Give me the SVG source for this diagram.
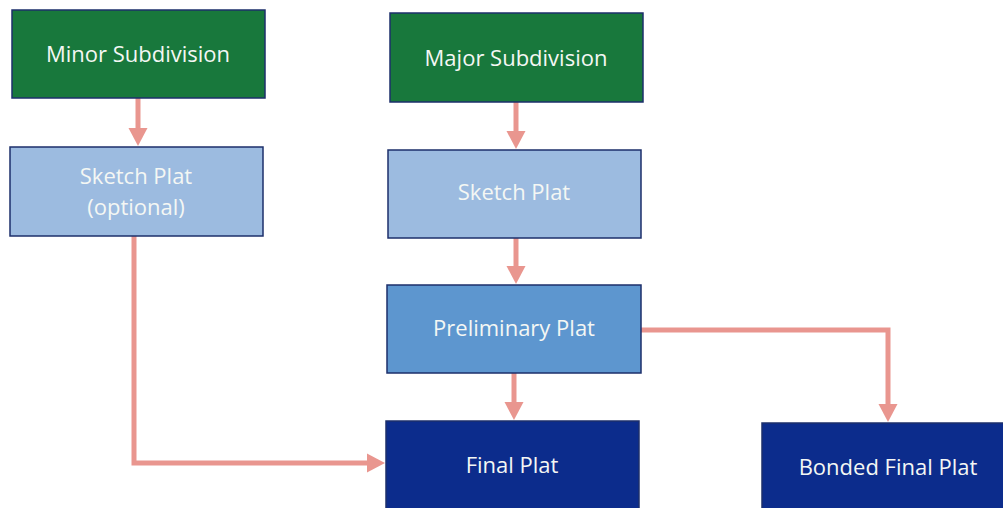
<svg xmlns="http://www.w3.org/2000/svg" width="1003" height="508" viewBox="0 0 1003 508">
<style>
.box{stroke:#1d2f6b;stroke-width:1.5}
.green{fill:#18783c}
.light{fill:#9cbbe0}
.mid{fill:#5d96cf}
.dark{fill:#0c2c8c}
.t{font-family:"Open Sans","Liberation Sans",sans-serif;font-size:22px;fill:#f4f7f4;text-anchor:middle}
.c{fill:none;stroke:#e9968f;stroke-width:5}
</style>
<defs>
<marker id="ah" markerWidth="4" markerHeight="4" refX="0.4" refY="2" orient="auto" markerUnits="strokeWidth" viewBox="0 0 4 4">
<polygon points="0,0.1 3.6,2 0,3.9" fill="#e9968f"/>
</marker>
</defs>
<rect width="1003" height="508" fill="#ffffff"/>
<g id="connectors">
<path class="c" d="M138,98 V130" marker-end="url(#ah)"/>
<path class="c" d="M516,102 V133" marker-end="url(#ah)"/>
<path class="c" d="M516,238 V268" marker-end="url(#ah)"/>
<path class="c" d="M514,373 V404" marker-end="url(#ah)"/>
<path class="c" d="M641,330 H888 V406" marker-end="url(#ah)"/>
<path class="c" d="M134,236 V463 H369" marker-end="url(#ah)"/>
</g>
<g id="minor">
<rect class="box green" x="12" y="10" width="253" height="88"/>
<text class="t" x="138" y="62">Minor Subdivision</text>
</g>
<g id="sketch-optional">
<rect class="box light" x="10" y="147" width="253" height="89"/>
<text class="t" x="136" y="184">Sketch Plat</text>
<text class="t" x="136" y="215">(optional)</text>
</g>
<g id="major">
<rect class="box green" x="390" y="13" width="253" height="89"/>
<text class="t" x="516" y="66">Major Subdivision</text>
</g>
<g id="sketch">
<rect class="box light" x="388" y="150" width="253" height="88"/>
<text class="t" x="514" y="200">Sketch Plat</text>
</g>
<g id="preliminary">
<rect class="box mid" x="387" y="285" width="254" height="88"/>
<text class="t" x="514" y="336">Preliminary Plat</text>
</g>
<g id="final">
<rect class="box dark" x="386" y="421" width="253" height="92"/>
<text class="t" x="512" y="473">Final Plat</text>
</g>
<g id="bonded">
<rect class="box dark" x="762" y="423" width="245" height="90"/>
<text class="t" x="888" y="475">Bonded Final Plat</text>
</g>
</svg>
